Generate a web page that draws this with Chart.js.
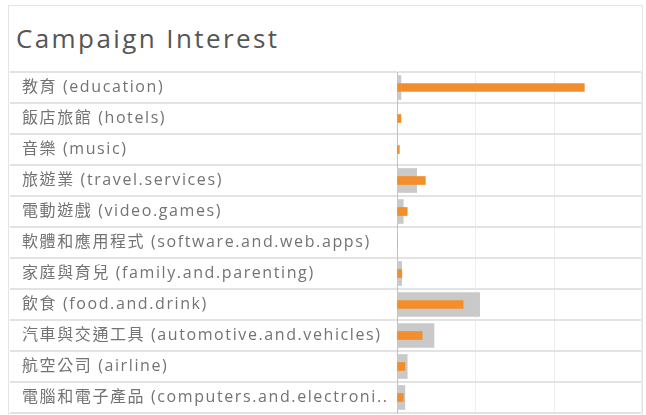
<!DOCTYPE html>
<html>
<head>
<meta charset="utf-8">
<script src="https://cdn.jsdelivr.net/npm/chart.js@4.4.1/dist/chart.umd.min.js"></script>
<style>
  html, body { margin: 0; padding: 0; background: #fff; overflow: hidden; }
  #box { position: absolute; left: 8px; top: 5px; width: 635px; height: 430px; border: 1px solid #e4e4e4; box-sizing: border-box; }
  #title { position: absolute; left: 7px; top: 14px; font: 26px "Open Sans", sans-serif; letter-spacing: 2.4px; color: #555; white-space: nowrap; }
  #wrap { position: absolute; left: 0; top: 55px; width: 633px; height: 354px; }
</style>
</head>
<body>
<div id="box">
  <div id="title">Campaign Interest</div>
  <div id="wrap"><canvas id="interestChart"></canvas></div>
</div>
<script>
// categories (top to bottom)
const categories = [
  '教育 (education)',
  '飯店旅館 (hotels)',
  '音樂 (music)',
  '旅遊業 (travel.services)',
  '電動遊戲 (video.games)',
  '軟體和應用程式 (software.and.web.apps)',
  '家庭與育兒 (family.and.parenting)',
  '飲食 (food.and.drink)',
  '汽車與交通工具 (automotive.and.vehicles)',
  '航空公司 (airline)',
  '電腦和電子產品 (computers.and.electronics)'
];

// orange thin bars
const campaignValues = [23.8, 0.5, 0.3, 3.6, 1.3, 0, 0.6, 8.4, 3.2, 1.0, 0.8];
// grey wide bars behind
const baselineValues = [0.5, 0, 0, 2.5, 0.8, 0, 0.6, 10.5, 4.7, 1.3, 1.0];

const xTickStep = 10;
const xMax = 31;

const labelFont = '"Open Sans", "Noto Sans CJK TC", sans-serif';
const spacingPx = '1.6px';

// cut long labels with ".." like the original, measured on the chart's own context
function fitLabel(c, text, maxW) {
  c.save();
  c.font = '16px ' + labelFont;
  c.letterSpacing = spacingPx;
  let t = text;
  if (c.measureText(t).width > maxW) {
    while (t.length && c.measureText(t + '..').width > maxW) {
      t = t.slice(0, -1);
    }
    t += '..';
  }
  c.restore();
  return t;
}

const letterSpacing = {
  id: 'letterSpacing',
  beforeLayout(chart) { chart.ctx.letterSpacing = spacingPx; },
  beforeDraw(chart) { chart.ctx.letterSpacing = spacingPx; }
};

const ctx = document.getElementById('interestChart').getContext('2d');
new Chart(ctx, {
  type: 'bar',
  data: {
    labels: categories,
    datasets: [
      {
        label: 'Campaign',
        data: campaignValues,
        backgroundColor: '#f28e2b',
        barThickness: 8,
        grouped: false
      },
      {
        label: 'Baseline',
        data: baselineValues,
        backgroundColor: '#c9c9c9',
        barThickness: 24,
        grouped: false
      }
    ]
  },
  options: {
    indexAxis: 'y',
    responsive: true,
    maintainAspectRatio: false,
    animation: false,
    layout: { padding: { left: 13, top: 11, right: 1, bottom: 2 } },
    plugins: {
      legend: { display: false },
      tooltip: { enabled: false }
    },
    scales: {
      x: {
        min: 0,
        max: xMax,
        afterFit(scale) { scale.height = 0; },
        ticks: { display: false, stepSize: xTickStep },
        grid: { color: '#eeeeee', drawTicks: false },
        border: { display: false }
      },
      y: {
        afterFit(scale) {
          scale.width = 375;
          scale.paddingTop = 0;
          scale.paddingBottom = 0;
        },
        ticks: {
          crossAlign: 'far',
          color: '#737373',
          font: { family: labelFont, size: 16 },
          callback: function (value) {
            return fitLabel(this.ctx, this.getLabelForValue(value), 372);
          }
        },
        grid: { color: '#e3e3e3', lineWidth: 2, tickLength: 387 },
        border: { color: '#b7c2cc', width: 1 }
      }
    }
  },
  plugins: [letterSpacing]
});
</script>
</body>
</html>
